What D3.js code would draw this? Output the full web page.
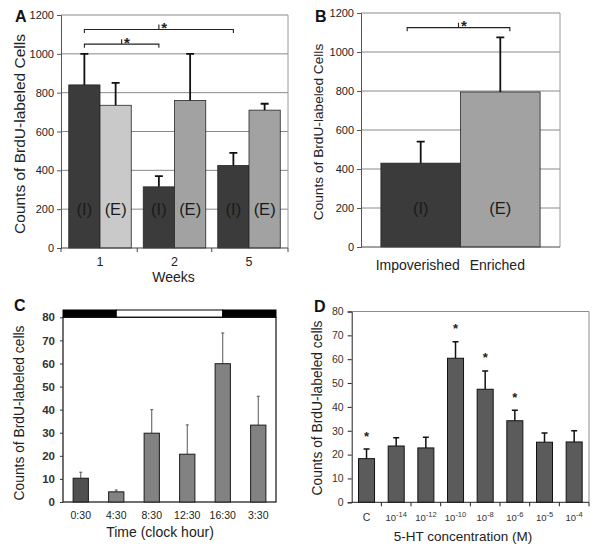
<!DOCTYPE html>
<html><head><meta charset="utf-8">
<script src="https://cdn.jsdelivr.net/npm/d3@7"></script>
<style>
html,body{margin:0;padding:0;background:#fff;}
svg{display:block;font-family:"Liberation Sans",Arial,sans-serif;}
</style></head>
<body><svg id="c" width="601" height="552"></svg>
<script>
// ---------- data ----------
const weeks = ["1", "2", "5"];
const groups = ["I", "E"];
const aImpov = [840, 315, 425];
const aImpovSem = [160, 55, 65];
const aEnr = [735, 760, 710];
const aEnrSem = [115, 240, 33];
const aTicks = [0, 200, 400, 600, 800, 1000, 1200];
const aSig = [ { from: "1", to: "5", level: 1125 }, { from: "1", to: "2", level: 1050 } ];

const bCats = ["Impoverished", "Enriched"];
const bShort = ["(I)", "(E)"];
const bValues = [430, 795];
const bSem = [110, 280];
const bSigLevel = 1125;

const cTimes = ["0:30", "4:30", "8:30", "12:30", "16:30", "3:30"];
const cValues = [10.3, 4.4, 29.8, 20.7, 59.9, 33.3];
const cSem = [2.6, 0.8, 10.2, 12.7, 13.3, 12.5];
const cTicks = [0, 10, 20, 30, 40, 50, 60, 70, 80];
const cPhases = [ { state: "dark", start: 0, end: 1.5 }, { state: "light", start: 1.5, end: 4.5 }, { state: "dark", start: 4.5, end: 6 } ];

const dConc = ["C", "-14", "-12", "-10", "-8", "-6", "-5", "-4"];
const dValues = [18.3, 23.6, 22.8, 60.4, 47.4, 34.2, 25.2, 25.3];
const dSem = [4.1, 3.5, 4.5, 6.9, 7.7, 4.4, 3.9, 4.7];
const dStars = [29, null, null, 74, 62, 45.4, null, null];
const dTicks = [0, 10, 20, 30, 40, 50, 60, 70, 80];

const svg = d3.select("#c");
const FONT = '"Liberation Sans",Arial,sans-serif';
const fmt = d3.format("d");

function panelLetter(t, x, y) {
  svg.append("text").attr("x", x).attr("y", y).attr("font-size", 16).attr("font-weight", "bold").attr("fill", "#111").text(t);
}
function yTitle(t, x, y, fs) {
  svg.append("text").attr("transform", `translate(${x},${y}) rotate(-90)`).attr("text-anchor", "middle")
    .attr("dy", "0.35em").attr("font-size", fs).attr("fill", "#222").text(t);
}
function bracket(g, x1, x2, y, star) {
  const xm = (x1 + x2) / 2;
  g.append("path").attr("d", `M${x1},${y + 3.5}V${y}H${x2}V${y + 3.5}M${xm},${y}V${y - 5}`)
    .attr("fill", "none").attr("stroke", "#222").attr("stroke-width", 1.1);
  g.append("text").attr("x", xm + 2.5).attr("y", y + 3.5).attr("font-size", 15).attr("font-weight", "bold").attr("fill", "#222").text(star);
}

// ---------- Panel A ----------
(function () {
  const L = 61, R = 288, T = 15, B = 248;
  const y = d3.scaleLinear().domain([0, 1200]).range([B, T]);
  const x = d3.scaleBand().domain(weeks).range([L, R]).paddingInner(0.161).paddingOuter(0.104);
  const xs = d3.scaleBand().domain(groups).range([0, x.bandwidth()]);
  const g = svg.append("g");
  g.selectAll(".grid").data(aTicks.slice(1)).join("line")
    .attr("x1", L).attr("x2", R).attr("y1", d => y(d)).attr("y2", d => y(d))
    .attr("stroke", "#8a8a8a").attr("stroke-width", 1);
  g.append("line").attr("x1", R).attr("x2", R).attr("y1", T).attr("y2", B).attr("stroke", "#9a9a9a");
  const rows = weeks.map((w, i) => [
    { w, k: "I", v: aImpov[i], s: aImpovSem[i], fill: "#3b3b3b" },
    { w, k: "E", v: aEnr[i], s: aEnrSem[i], fill: i === 0 ? "#c9c9c9" : "#a2a2a2" }
  ]).flat();
  g.selectAll(".bar").data(rows).join("rect")
    .attr("x", d => x(d.w) + xs(d.k)).attr("width", xs.bandwidth())
    .attr("y", d => y(d.v)).attr("height", d => y(0) - y(d.v))
    .attr("fill", d => d.fill).attr("stroke", "#262626").attr("stroke-width", 0.8);
  const cx = d => x(d.w) + xs(d.k) + xs.bandwidth() / 2;
  g.selectAll(".err").data(rows).join("path")
    .attr("d", d => `M${cx(d)},${y(d.v)}V${y(d.v + d.s)}M${cx(d) - 4},${y(d.v + d.s)}H${cx(d) + 4}`)
    .attr("stroke", "#111").attr("stroke-width", 1.8).attr("fill", "none");
  g.selectAll(".lab").data(rows).join("text")
    .attr("x", cx).attr("y", y(200)).attr("dy", "0.36em").attr("text-anchor", "middle")
    .attr("font-size", 16.5).attr("fill", "#1a1a1a").text(d => `(${d.k})`);
  const ya = g.append("g").attr("transform", `translate(${L},0)`)
    .call(d3.axisLeft(y).tickValues(aTicks).tickFormat(fmt).tickSize(4).tickPadding(3));
  ya.select(".domain").attr("stroke", "#555");
  ya.selectAll(".tick line").attr("stroke", "#555");
  ya.selectAll("text").attr("font-size", 11).attr("fill", "#222").attr("font-family", FONT);
  const bounds = [L, ...weeks.slice(1).map(w => x(w) - x.step() * x.paddingInner() / 2), R];
  g.append("line").attr("x1", L).attr("x2", R).attr("y1", B).attr("y2", B).attr("stroke", "#444");
  g.selectAll(".bt").data(bounds).join("line").attr("x1", d => d).attr("x2", d => d).attr("y1", B).attr("y2", B + 4).attr("stroke", "#444");
  g.selectAll(".xl").data(weeks).join("text")
    .attr("x", d => x(d) + x.bandwidth() / 2).attr("y", 266).attr("text-anchor", "middle")
    .attr("font-size", 12.5).attr("fill", "#222").text(d => d);
  g.append("text").attr("x", (L + R) / 2 - 1).attr("y", 282).attr("text-anchor", "middle")
    .attr("font-size", 14).attr("fill", "#222").text("Weeks");
  aSig.forEach(s => {
    const x1 = x(s.from) + xs("I") + xs.bandwidth() / 2;
    const x2 = x(s.to) + xs("I") + xs.bandwidth() / 2;
    bracket(g, x1, x2, y(s.level), "*");
  });
  yTitle("Counts of BrdU-labeled Cells", 20, 134, 15.5);
  panelLetter("A", 15, 22);
})();

// ---------- Panel B ----------
(function () {
  const L = 361, R = 560, T = 13, B = 247;
  const y = d3.scaleLinear().domain([0, 1200]).range([B, T]);
  const x = d3.scaleBand().domain(bCats).range([L, R]).paddingInner(0).paddingOuter(0.25);
  const g = svg.append("g");
  g.selectAll(".grid").data(aTicks.slice(1)).join("line")
    .attr("x1", L).attr("x2", R).attr("y1", d => y(d)).attr("y2", d => y(d))
    .attr("stroke", "#8a8a8a");
  g.append("line").attr("x1", R).attr("x2", R).attr("y1", T).attr("y2", B).attr("stroke", "#9a9a9a");
  const rows = bCats.map((c, i) => ({ c, v: bValues[i], s: bSem[i], lab: bShort[i], fill: i === 0 ? "#3b3b3b" : "#a2a2a2" }));
  g.selectAll(".bar").data(rows).join("rect")
    .attr("x", d => x(d.c)).attr("width", x.bandwidth())
    .attr("y", d => y(d.v)).attr("height", d => y(0) - y(d.v))
    .attr("fill", d => d.fill).attr("stroke", "#262626").attr("stroke-width", 0.8);
  const cx = d => x(d.c) + x.bandwidth() / 2;
  g.selectAll(".err").data(rows).join("path")
    .attr("d", d => `M${cx(d)},${y(d.v)}V${y(d.v + d.s)}M${cx(d) - 4},${y(d.v + d.s)}H${cx(d) + 4}`)
    .attr("stroke", "#111").attr("stroke-width", 1.8).attr("fill", "none");
  g.selectAll(".lab").data(rows).join("text")
    .attr("x", cx).attr("y", y(200)).attr("dy", "0.36em").attr("text-anchor", "middle")
    .attr("font-size", 16.5).attr("fill", "#1a1a1a").text(d => d.lab);
  const ya = g.append("g").attr("transform", `translate(${L},0)`)
    .call(d3.axisLeft(y).tickValues(aTicks).tickFormat(fmt).tickSize(4).tickPadding(3));
  ya.select(".domain").attr("stroke", "#555");
  ya.selectAll(".tick line").attr("stroke", "#555");
  ya.selectAll("text").attr("font-size", 11).attr("fill", "#222").attr("font-family", FONT);
  g.append("line").attr("x1", L).attr("x2", R).attr("y1", B).attr("y2", B).attr("stroke", "#444");
  g.selectAll(".xl").data(bCats).join("text")
    .attr("x", d => x(d) + x.bandwidth() / 2 - 3).attr("y", 270).attr("text-anchor", "middle")
    .attr("font-size", 14).attr("fill", "#222").text(d => d);
  const x1 = x(bCats[0]) + x.bandwidth() * 0.33;
  const x2 = x(bCats[1]) + x.bandwidth() * 0.62;
  bracket(g, x1, x2, y(bSigLevel), "*");
  yTitle("Counts of BrdU-labeled Cells", 318, 132, 13.7);
  panelLetter("B", 315, 22);
})();

// ---------- Panel C ----------
(function () {
  const L = 63, R = 276, T = 317.3, B = 502;
  const y = d3.scaleLinear().domain([0, 80]).range([B, T]);
  const x = d3.scaleBand().domain(cTimes).range([L, R]).paddingInner(0.57).paddingOuter(0.285);
  const xi = d3.scaleLinear().domain([0, cTimes.length]).range([L, R]);
  const g = svg.append("g");
  g.selectAll(".ph").data(cPhases).join("rect")
    .attr("x", d => xi(d.start)).attr("width", d => xi(d.end) - xi(d.start))
    .attr("y", T - 7.3).attr("height", 7.3)
    .attr("fill", d => d.state === "dark" ? "#000" : "#fff").attr("stroke", "#000").attr("stroke-width", 1);
  g.append("rect").attr("x", L).attr("y", T).attr("width", R - L).attr("height", B - T)
    .attr("fill", "none").attr("stroke", "#111").attr("stroke-width", 1.2);
  const rows = cTimes.map((t, i) => ({ t, v: cValues[i], s: cSem[i], fill: i === 0 ? "#505050" : "#828282" }));
  const cx = d => x(d.t) + x.bandwidth() / 2;
  g.selectAll(".err").data(rows).join("path")
    .attr("d", d => `M${cx(d)},${y(d.v)}V${y(d.v + d.s)}M${cx(d) - 1.5},${y(d.v + d.s)}H${cx(d) + 1.5}`)
    .attr("stroke", "#555").attr("stroke-width", 1).attr("fill", "none");
  g.selectAll(".bar").data(rows).join("rect")
    .attr("x", d => x(d.t)).attr("width", x.bandwidth())
    .attr("y", d => y(d.v)).attr("height", d => y(0) - y(d.v))
    .attr("fill", d => d.fill).attr("stroke", "#1a1a1a").attr("stroke-width", 1);
  const ya = g.append("g").attr("transform", `translate(${L},0)`)
    .call(d3.axisLeft(y).tickValues(cTicks).tickSize(3).tickPadding(5));
  ya.select(".domain").remove();
  ya.selectAll(".tick line").attr("stroke", "#333");
  ya.selectAll("text").attr("font-size", 11.5).attr("font-weight", "bold").attr("fill", "#333").attr("font-family", FONT);
  g.selectAll(".xl").data(cTimes).join("text")
    .attr("x", d => x(d) + x.bandwidth() / 2).attr("y", 518.5).attr("text-anchor", "middle")
    .attr("font-size", 10.5).attr("fill", "#222").text(d => d);
  g.append("text").attr("x", 160).attr("y", 537).attr("text-anchor", "middle")
    .attr("font-size", 14).attr("fill", "#222").text("Time (clock hour)");
  yTitle("Counts of BrdU-labeled cells", 19, 413, 13.8);
  panelLetter("C", 14, 311);
})();

// ---------- Panel D ----------
(function () {
  const L = 351.7, R = 589, T = 311.5, B = 502.3;
  const y = d3.scaleLinear().domain([0, 80]).range([B, T]);
  const x = d3.scaleBand().domain(dConc).range([L, R]).paddingInner(0.46).paddingOuter(0.23);
  const g = svg.append("g");
  g.append("path").attr("d", `M${L},${T}H${R}V${B}`).attr("fill", "none").attr("stroke", "#8c8c8c");
  const rows = dConc.map((c, i) => ({ c, v: dValues[i], s: dSem[i], star: dStars[i] }));
  const cx = d => x(d.c) + x.bandwidth() / 2;
  g.selectAll(".err").data(rows).join("path")
    .attr("d", d => `M${cx(d)},${y(d.v)}V${y(d.v + d.s)}M${cx(d) - 3},${y(d.v + d.s)}H${cx(d) + 3}`)
    .attr("stroke", "#111").attr("stroke-width", 1.5).attr("fill", "none");
  g.selectAll(".bar").data(rows).join("rect")
    .attr("x", d => x(d.c)).attr("width", x.bandwidth())
    .attr("y", d => y(d.v)).attr("height", d => y(0) - y(d.v))
    .attr("fill", "#5b5b5b").attr("stroke", "#111").attr("stroke-width", 1);
  g.selectAll(".star").data(rows.filter(d => d.star != null)).join("text")
    .attr("x", cx).attr("y", d => y(d.star) + 7.5).attr("text-anchor", "middle")
    .attr("font-size", 13).attr("font-weight", "bold").attr("fill", "#222").text("*");
  const ya = g.append("g").attr("transform", `translate(${L},0)`)
    .call(d3.axisLeft(y).tickValues(dTicks).tickSize(4).tickPadding(4));
  ya.select(".domain").attr("stroke", "#222");
  ya.selectAll(".tick line").attr("stroke", "#222");
  ya.selectAll("text").attr("font-size", 10.5).attr("fill", "#333").attr("font-family", FONT);
  g.append("line").attr("x1", L).attr("x2", R).attr("y1", B).attr("y2", B).attr("stroke", "#222");
  const bounds = dConc.map(c => x(c) + x.bandwidth() + x.step() * x.paddingInner() / 2);
  g.selectAll(".bt").data(bounds).join("line").attr("x1", d => d).attr("x2", d => d).attr("y1", B).attr("y2", B + 4).attr("stroke", "#222");
  const xl = g.selectAll(".xl").data(dConc).join("text")
    .attr("x", d => x(d) + x.bandwidth() / 2).attr("y", 521).attr("text-anchor", "middle")
    .attr("fill", "#333");
  xl.each(function (d) {
    const t = d3.select(this);
    if (d === "C") { t.attr("font-size", 10.5).text("C"); return; }
    t.append("tspan").attr("font-size", 9.5).text("10");
    t.append("tspan").attr("font-size", 7.5).attr("dy", -4.5).text(d);
  });
  g.append("text").attr("x", 463).attr("y", 541).attr("text-anchor", "middle")
    .attr("font-size", 13.5).attr("fill", "#222").text("5-HT concentration (M)");
  yTitle("Counts of BrdU-labeled cells", 317, 408, 13.8);
  panelLetter("D", 314, 312);
})();
</script></body></html>
